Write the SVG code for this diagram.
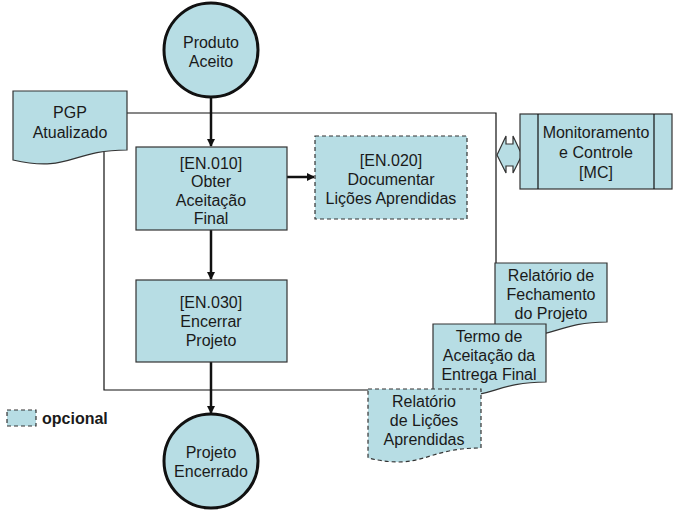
<svg xmlns="http://www.w3.org/2000/svg" width="678" height="513" viewBox="0 0 678 513">
<style>
text{font-family:"Liberation Sans",Arial,sans-serif;font-size:16px;fill:#1a1a1a;text-anchor:middle}
.shape{fill:#b7dde4;stroke:#333;stroke-width:1.2}
.dash{stroke-dasharray:4,3}
.circ{fill:#b7dde4;stroke:#111;stroke-width:3}
.line{fill:none;stroke:#111;stroke-width:1.2}
.arrow{fill:none;stroke:#111;stroke-width:2.5;marker-end:url(#ah)}
</style>
<defs>
<marker id="ah" markerWidth="8" markerHeight="8" refX="7" refY="4" orient="auto" markerUnits="userSpaceOnUse">
<path d="M0,0 L8,4 L0,8 Z" fill="#111"/>
</marker>
</defs>
<rect width="678" height="513" fill="#fff"/>
<g id="connectors">
<path class="line" d="M126,113 H496 V263"/>
<path class="line" d="M104,152 V390 H368"/>
<path class="arrow" d="M211,97 V146"/>
<path class="arrow" d="M287,177 H314"/>
<path class="arrow" d="M211,230 V279"/>
<path class="arrow" d="M211,362 V413"/>
<polygon class="shape" points="497,155 506,136 506,144 513,144 513,136 522,155 513,173 513,166 506,166 506,173"/>
</g>
<g id="produto-aceito">
<circle class="circ" cx="211" cy="50" r="47"/>
<text x="211" y="48">Produto</text>
<text x="211" y="67">Aceito</text>
</g>
<g id="pgp">
<path class="shape" d="M13,91 H127 V150 C70,150 70,173 13,160 Z"/>
<text x="70" y="118">PGP</text>
<text x="70" y="138">Atualizado</text>
</g>
<g id="en010">
<rect class="shape" x="136" y="147" width="151" height="83"/>
<text x="211" y="169">[EN.010]</text>
<text x="211" y="187">Obter</text>
<text x="211" y="206">Aceitação</text>
<text x="211" y="224">Final</text>
</g>
<g id="en020">
<rect class="shape dash" x="315" y="136" width="152" height="83"/>
<text x="391" y="166">[EN.020]</text>
<text x="391" y="185">Documentar</text>
<text x="391" y="204">Lições Aprendidas</text>
</g>
<g id="en030">
<rect class="shape" x="136" y="280" width="151" height="82"/>
<text x="211" y="308">[EN.030]</text>
<text x="211" y="327">Encerrar</text>
<text x="211" y="346">Projeto</text>
</g>
<g id="projeto-encerrado">
<circle class="circ" cx="211" cy="461" r="47"/>
<text x="211" y="458">Projeto</text>
<text x="211" y="477">Encerrado</text>
</g>
<g id="mc">
<rect class="shape" x="520" y="114" width="152" height="75"/>
<line class="line" x1="538" y1="114" x2="538" y2="189"/>
<line class="line" x1="654" y1="114" x2="654" y2="189"/>
<text x="596" y="138">Monitoramento</text>
<text x="596" y="158">e Controle</text>
<text x="596" y="178">[MC]</text>
</g>
<g id="rel-fechamento">
<path class="shape" d="M495,263 H607 V322 C551,322 551,345 495,332 Z"/>
<text x="551" y="281">Relatório de</text>
<text x="551" y="300">Fechamento</text>
<text x="551" y="319">do Projeto</text>
</g>
<g id="termo">
<path class="shape" d="M433,324 H546 V382 C489,382 489,405 433,392 Z"/>
<text x="489" y="342">Termo de</text>
<text x="489" y="361">Aceitação da</text>
<text x="489" y="380">Entrega Final</text>
</g>
<g id="rel-licoes">
<path class="shape dash" d="M368,389 H481 V448 C424,448 424,471 368,458 Z"/>
<text x="424" y="407">Relatório</text>
<text x="424" y="426">de Lições</text>
<text x="424" y="445">Aprendidas</text>
</g>
<g id="legend">
<rect class="shape dash" x="7" y="410" width="29" height="16"/>
<text x="42" y="424" style="text-anchor:start;font-weight:bold">opcional</text>
</g>
</svg>
